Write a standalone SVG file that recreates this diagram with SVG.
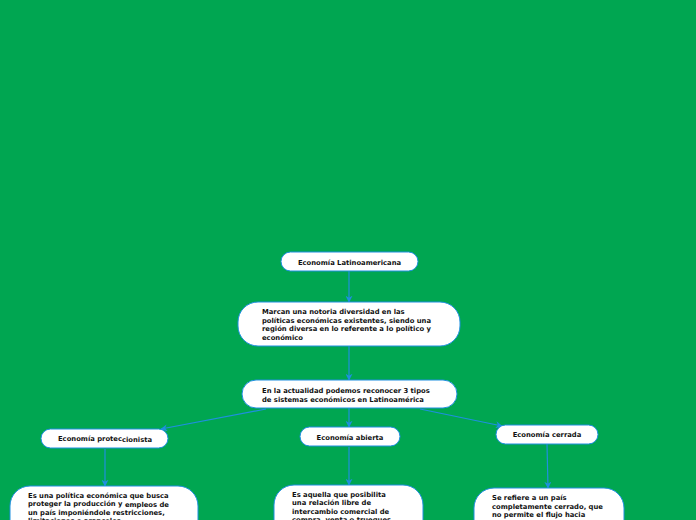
<svg xmlns="http://www.w3.org/2000/svg" width="696" height="520" viewBox="0 0 696 520">
<defs>
<marker id="ah" viewBox="0 0 10 10" refX="9" refY="5" markerWidth="7" markerHeight="7" orient="auto" markerUnits="userSpaceOnUse">
<path d="M0,0 L10,5 L0,10 L3,5 Z" fill="#1f8fe0"/>
</marker>
<style>
.n{fill:#fff;stroke:#1f8fe0;stroke-width:1}
.t{font-family:"DejaVu Sans",Verdana,sans-serif;font-weight:bold;font-size:6.8px;fill:#111}
.c{text-anchor:middle}
.e{stroke:#1f8fe0;stroke-width:1.2;fill:none;marker-end:url(#ah)}
</style>
</defs>
<rect width="696" height="520" fill="#00a651"/>
<g id="connectors">
<line class="e" x1="349" y1="271" x2="349" y2="302"/>
<line class="e" x1="349" y1="346" x2="349" y2="380"/>
<line class="e" x1="349" y1="408" x2="349" y2="427"/>
<line class="e" x1="266" y1="409" x2="161" y2="429"/>
<line class="e" x1="420" y1="409" x2="502" y2="426"/>
<line class="e" x1="105" y1="449" x2="105" y2="486"/>
<line class="e" x1="349" y1="447" x2="349" y2="485"/>
<line class="e" x1="547" y1="444" x2="548" y2="488"/>
</g>
<g id="n1">
<rect class="n" x="281" y="252" width="137" height="19" rx="9.5"/>
<text class="t c" x="349.5" y="264.5">Economía Latinoamericana</text>
</g>
<g id="n2">
<rect class="n" x="238" y="302" width="222" height="44" rx="20"/>
<text class="t" x="262" y="314">Marcan una notoria diversidad en las</text>
<text class="t" x="262" y="322.5">políticas económicas existentes, siendo una</text>
<text class="t" x="262" y="331">región diversa en lo referente a lo político y</text>
<text class="t" x="262" y="339.5">económico</text>
</g>
<g id="n3">
<rect class="n" x="242" y="380" width="215" height="28" rx="14"/>
<text class="t" x="262" y="392.5">En la actualidad podemos reconocer 3 tipos</text>
<text class="t" x="262" y="401.5">de sistemas económicos en Latinoamérica</text>
</g>
<g id="n4">
<rect class="n" x="41" y="429" width="127" height="19" rx="9.5"/>
<text class="t c" x="105" y="441">Economía protec<tspan dy="1">cionista</tspan></text>
</g>
<g id="n5">
<rect class="n" x="300" y="427" width="100" height="19" rx="9.5"/>
<text class="t c" x="350" y="439.5">Economía abierta</text>
</g>
<g id="n6">
<rect class="n" x="496" y="425" width="102" height="19" rx="9.5"/>
<text class="t c" x="547" y="437">Economía cerrada</text>
</g>
<g id="n7">
<rect class="n" x="10" y="486" width="188" height="80" rx="20"/>
<text class="t" x="28" y="497.5">Es una política económica que busca</text>
<text class="t" x="28" y="506">proteger la producción y <tspan dy="1">empleos de</tspan></text>
<text class="t" x="28" y="514.5">un país imponiéndole restricciones,</text>
<text class="t" x="28" y="523">limitaciones o aranceles</text>
</g>
<g id="n8">
<rect class="n" x="274" y="485" width="149" height="80" rx="20"/>
<text class="t" x="292" y="496.5">Es aquella que posibilita</text>
<text class="t" x="292" y="505">una relación libre de</text>
<text class="t" x="292" y="513.5">intercambio comercial de</text>
<text class="t" x="292" y="522">compra, venta o trueques</text>
</g>
<g id="n9">
<rect class="n" x="474" y="488" width="150" height="80" rx="20"/>
<text class="t" x="492" y="500">Se refiere a un país</text>
<text class="t" x="492" y="508.5">completamente cerrado, que</text>
<text class="t" x="492" y="517">no permite el flujo hacia</text>
</g>
</svg>
